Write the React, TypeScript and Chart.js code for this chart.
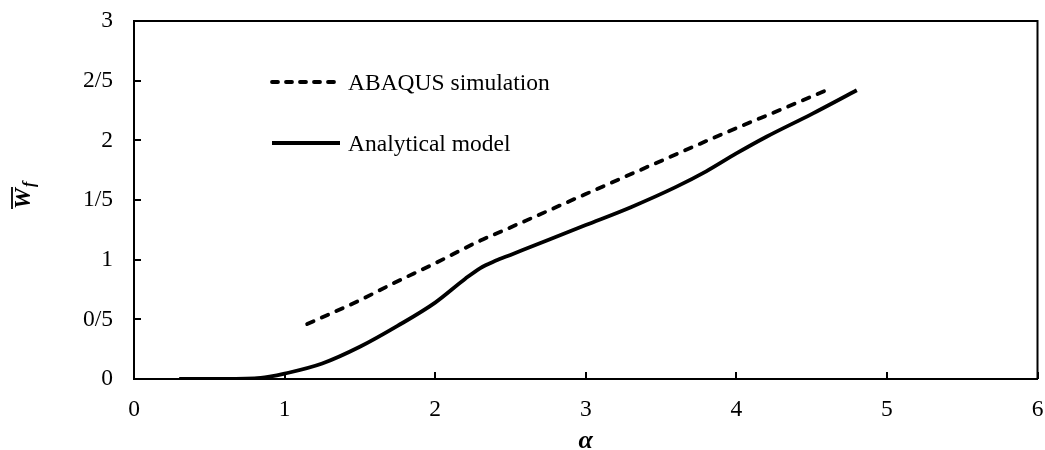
import React, { useEffect, useRef } from "react";
import { Chart, registerables } from "chart.js";

Chart.register(...registerables);

// ABAQUS simulation (dashed)
const abaqusAlpha = [1.15, 1.5, 1.72, 2.0, 2.3, 2.5, 3.0, 3.36, 3.94, 4.3, 4.6];
const abaqusW = [0.46, 0.66, 0.8, 0.97, 1.16, 1.27, 1.55, 1.75, 2.07, 2.26, 2.42];

// Analytical model (solid)
const modelAlpha = [0.3, 0.5, 0.8, 0.9, 1.0, 1.25, 1.5, 1.75, 2.0, 2.2, 2.3, 2.4, 2.5, 2.75, 3.0, 3.3, 3.6, 3.8, 4.0, 4.2, 4.5, 4.8];
const modelW = [0, 0, 0.005, 0.02, 0.045, 0.13, 0.27, 0.445, 0.64, 0.84, 0.93, 0.99, 1.04, 1.165, 1.29, 1.44, 1.61, 1.74, 1.89, 2.03, 2.22, 2.42];

const xTickLabels = ["0", "1", "2", "3", "4", "5", "6"];
const yTickLabels = ["0", "0/5", "1", "1/5", "2", "2/5", "3"];

const seriesNames = ["ABAQUS simulation", "Analytical model"];

const FONT = "'Liberation Serif', 'Times New Roman', serif";
const FONT_SIZE = 23.5;
const DASH = [7, 9];
const LINE_W = 3.8;

const framePlugin = {
  id: "frameAndLabels",
  afterDraw(chart: any) {
    const { ctx, chartArea } = chart;
    const xs = chart.scales.x;
    const ys = chart.scales.y;
    ctx.save();
    ctx.strokeStyle = "#000";
    ctx.lineWidth = 2;
    // top and right frame lines
    ctx.beginPath();
    ctx.moveTo(chartArea.left, chartArea.top);
    ctx.lineTo(chartArea.right, chartArea.top);
    ctx.lineTo(chartArea.right, chartArea.bottom);
    ctx.stroke();
    // inward tick marks
    ctx.beginPath();
    ys.ticks.forEach((t: any) => {
      const py = Math.round(ys.getPixelForValue(t.value));
      ctx.moveTo(chartArea.left, py);
      ctx.lineTo(chartArea.left + 7, py);
    });
    xs.ticks.forEach((t: any) => {
      const px = Math.round(xs.getPixelForValue(t.value));
      ctx.moveTo(px, chartArea.bottom);
      ctx.lineTo(px, chartArea.bottom - 7);
    });
    ctx.stroke();

    // legend
    const lx0 = 272;
    const lx1 = 340;
    ctx.lineWidth = LINE_W;
    ctx.lineCap = "round";
    ctx.setLineDash([6, 8]);
    ctx.beginPath();
    ctx.moveTo(lx0, 82);
    ctx.lineTo(lx1, 82);
    ctx.stroke();
    ctx.setLineDash([]);
    ctx.lineCap = "butt";
    ctx.beginPath();
    ctx.moveTo(lx0, 143);
    ctx.lineTo(lx1, 143);
    ctx.stroke();
    ctx.fillStyle = "#000";
    ctx.font = `${FONT_SIZE}px ${FONT}`;
    ctx.textAlign = "left";
    ctx.textBaseline = "alphabetic";
    ctx.fillText(seriesNames[0], 348, 89.5);
    ctx.fillText(seriesNames[1], 348, 150.5);

    // x-axis title
    ctx.font = `bold italic 26px ${FONT}`;
    ctx.textAlign = "center";
    ctx.fillText("α", (chartArea.left + chartArea.right) / 2, 448);

    // y-axis title: W with overbar, subscript f
    ctx.translate(30, (chartArea.top + chartArea.bottom) / 2 - 2);
    ctx.rotate(-Math.PI / 2);
    ctx.textAlign = "left";
    ctx.font = `bold italic ${FONT_SIZE}px ${FONT}`;
    ctx.fillText("W", -11, 0);
    const ww = ctx.measureText("W").width;
    ctx.lineWidth = 1.8;
    ctx.beginPath();
    ctx.moveTo(-11, -18);
    ctx.lineTo(-11 + ww + 1, -18);
    ctx.stroke();
    ctx.font = `bold italic 16px ${FONT}`;
    ctx.fillText("f", -11 + ww + 1, 4);
    ctx.restore();
  },
};

export default function App() {
  const canvasRef = useRef<HTMLCanvasElement | null>(null);

  useEffect(() => {
    if (!canvasRef.current) return;
    const chart = new Chart(canvasRef.current, {
      type: "line",
      data: {
        datasets: [
          {
            label: seriesNames[0],
            data: abaqusAlpha.map((a, i) => ({ x: a, y: abaqusW[i] })),
            borderColor: "#000",
            borderWidth: LINE_W,
            borderDash: DASH,
            borderCapStyle: "round",
            pointRadius: 0,
            fill: false,
            cubicInterpolationMode: "monotone",
          },
          {
            label: seriesNames[1],
            data: modelAlpha.map((a, i) => ({ x: a, y: modelW[i] })),
            borderColor: "#000",
            borderWidth: LINE_W,
            pointRadius: 0,
            fill: false,
            cubicInterpolationMode: "monotone",
          },
        ],
      },
      options: {
        responsive: false,
        animation: false,
        layout: { padding: { left: 0, right: 7.5, top: 21, bottom: 0 } },
        plugins: {
          legend: { display: false },
          tooltip: { enabled: false },
        },
        scales: {
          x: {
            type: "linear",
            min: 0,
            max: 6,
            grid: {
              display: true,
              drawOnChartArea: false,
              drawTicks: true,
              tickLength: 17,
              tickColor: "rgba(0,0,0,0)",
            },
            border: { display: true, color: "#000", width: 2 },
            ticks: {
              stepSize: 1,
              color: "#000",
              padding: 0,
              maxRotation: 0,
              font: { family: FONT, size: FONT_SIZE },
              callback: (_v: any, i: number) => xTickLabels[i],
            },
            afterFit: (s: any) => {
              s.height = 71;
            },
          },
          y: {
            type: "linear",
            min: 0,
            max: 3,
            grid: {
              display: true,
              drawOnChartArea: false,
              drawTicks: true,
              tickLength: 21,
              tickColor: "rgba(0,0,0,0)",
            },
            border: { display: true, color: "#000", width: 2 },
            ticks: {
              stepSize: 0.5,
              color: "#000",
              padding: 0,
              font: { family: FONT, size: FONT_SIZE },
              callback: (_v: any, i: number) => yTickLabels[i],
            },
            afterFit: (s: any) => {
              s.width = 134;
            },
          },
        },
      },
      plugins: [framePlugin],
    });
    return () => chart.destroy();
  }, []);

  return (
    <div style={{ position: "absolute", left: 0, top: 0, width: 1045, height: 450, background: "#fff" }}>
      <canvas ref={canvasRef} width={1045} height={450} style={{ display: "block" }} />
    </div>
  );
}
